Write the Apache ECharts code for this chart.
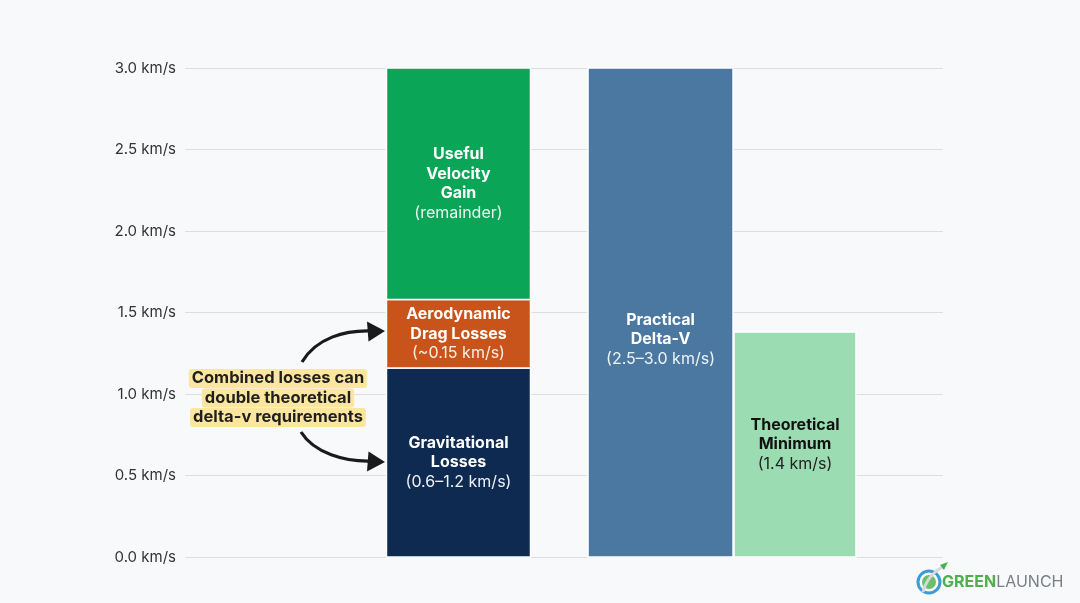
<!DOCTYPE html>
<html>
<head>
<meta charset="utf-8">
<script src="https://cdn.jsdelivr.net/npm/echarts@6/dist/echarts.min.js"></script>
<style>
html,body{margin:0;padding:0;background:#f8f9fa;}
#chart{width:1080px;height:603px;}
</style>
</head>
<body>
<div id="chart"></div>
<script>
// ---- data ----
const categories = ['Loss Breakdown', 'Practical Delta-V', 'Theoretical Minimum'];
const gravitationalLosses = 1.16;   // km/s
const aerodynamicLosses = 0.42;     // km/s
const usefulVelocityGain = 1.42;    // km/s (remainder)
const practicalDeltaV = 3.0;        // km/s
const theoreticalMinimum = 1.38;    // km/s
const yTicks = [0, 0.5, 1.0, 1.5, 2.0, 2.5, 3.0];
const segmentNames = ['Gravitational Losses', 'Aerodynamic Drag Losses', 'Useful Velocity Gain', 'Practical Delta-V', 'Theoretical Minimum'];
const segmentLabels = [
  ['Gravitational', 'Losses', '(0.6–1.2 km/s)'],
  ['Aerodynamic', 'Drag Losses', '(~0.15 km/s)'],
  ['Useful', 'Velocity', 'Gain', '(remainder)'],
  ['Practical', 'Delta-V', '(2.5–3.0 km/s)'],
  ['Theoretical', 'Minimum', '(1.4 km/s)']
];

// ---- layout / style (not data) ----
const barSlots = [[0.2658, 0.4558], [0.5317, 0.7230], [0.7243, 0.8852]];
const segColors = ['#0f2a50', '#c9541b', '#0ba557', '#4a78a1', '#9bdcb2'];
const textColors = ['#ffffff', '#ffffff', '#ffffff', '#ffffff', '#111111'];
const subColors = ['#eef2f7', '#fbeee6', '#e8f7ee', '#eef3f8', '#222222'];
const labelShift = [0, 0, 0, 27, 0];

// build stacked segments from data
const segValues = [gravitationalLosses, aerodynamicLosses, usefulVelocityGain, practicalDeltaV, theoreticalMinimum];
const segCats = [0, 0, 0, 1, 2];
const segData = [];
const stackTop = {};
segValues.forEach((v, i) => {
  const c = segCats[i];
  const base = stackTop[c] || 0;
  segData.push({ name: segmentNames[i], value: [categories[c], base, base + v] });
  stackTop[c] = base + v;
});

function renderItem(params, api) {
  const i = params.dataIndex;
  const cs = params.coordSys;
  const slot = barSlots[segCats[i]];
  const pBase = api.coord([api.value(0), api.value(1)]);
  const pTop = api.coord([api.value(0), api.value(2)]);
  const x0 = cs.x + slot[0] * cs.width;
  const x1 = cs.x + slot[1] * cs.width;
  const lines = segmentLabels[i];
  const txt = lines.map((l, k) => (k === lines.length - 1 ? '{s|' + l + '}' : '{t|' + l + '}')).join('\n');
  return {
    type: 'group',
    children: [
      {
        type: 'rect',
        shape: { x: x0, y: pTop[1], width: x1 - x0, height: pBase[1] - pTop[1] },
        style: { fill: segColors[i], stroke: '#ffffff', lineWidth: 1.5 }
      },
      {
        type: 'text',
        x: (x0 + x1) / 2,
        y: (pTop[1] + pBase[1]) / 2 + labelShift[i],
        style: {
          text: txt,
          align: 'center',
          verticalAlign: 'middle',
          fill: textColors[i],
          rich: {
            t: { fontFamily: 'Inter', fontWeight: 'bold', fontSize: 16, lineHeight: 19.5, fill: textColors[i], align: 'center' },
            s: { fontFamily: 'Inter', fontWeight: 'normal', fontSize: 16, lineHeight: 19.5, fill: subColors[i], align: 'center' }
          }
        }
      }
    ]
  };
}

const chart = echarts.init(document.getElementById('chart'), null, { renderer: 'canvas' });
chart.setOption({
  backgroundColor: '#f8f9fa',
  animation: false,
  grid: { left: 185, right: 137, top: 68, bottom: 46, containLabel: false },
  xAxis: {
    type: 'category',
    data: categories,
    show: false
  },
  yAxis: {
    type: 'value',
    min: yTicks[0],
    max: yTicks[yTicks.length - 1],
    interval: 0.5,
    axisLine: { show: false },
    axisTick: { show: false },
    splitLine: { lineStyle: { color: '#dcdee2', width: 1 } },
    axisLabel: {
      margin: 9,
      fontFamily: 'Inter',
      fontSize: 15,
      color: '#333333',
      formatter: v => v.toFixed(1) + ' km/s'
    }
  },
  series: [{
    type: 'custom',
    renderItem: renderItem,
    encode: { x: 0, y: [1, 2] },
    data: segData,
    z: 3
  }],
  graphic: [
    // upper arrow
    { type: 'bezierCurve', z: 10,
      shape: { x1: 302, y1: 362, cpx1: 316, cpy1: 338, cpx2: 345, cpy2: 330, x2: 372, y2: 331 },
      style: { stroke: '#1a1a1a', lineWidth: 3.2, fill: null } },
    { type: 'polygon', z: 10,
      shape: { points: [[385, 331], [367, 321.5], [368.5, 341.5]] },
      style: { fill: '#1a1a1a' } },
    // lower arrow
    { type: 'bezierCurve', z: 10,
      shape: { x1: 301, y1: 432, cpx1: 314, cpy1: 453, cpx2: 345, cpy2: 462, x2: 372, y2: 461 },
      style: { stroke: '#1a1a1a', lineWidth: 3.2, fill: null } },
    { type: 'polygon', z: 10,
      shape: { points: [[385, 462], [368.5, 451.5], [367, 471.5]] },
      style: { fill: '#1a1a1a' } },
    // callout
    { type: 'text', z: 11, x: 278, y: 398,
      style: {
        text: '{h|Combined losses can}\n{h|double theoretical}\n{h|delta-v requirements}',
        align: 'center', verticalAlign: 'middle',
        rich: {
          h: { fontFamily: 'Inter', fontWeight: 'bold', fontSize: 16.5, lineHeight: 19.5, fill: '#1f1f1f',
               backgroundColor: '#fbe6a0', padding: [1, 3, 1, 3], borderRadius: 3, align: 'center' }
        }
      } },
    // logo icon
    { type: 'circle', z: 10, shape: { cx: 929, cy: 582, r: 11 },
      style: { fill: 'none', stroke: '#3d9bd6', lineWidth: 3 } },
    { type: 'circle', z: 10, shape: { cx: 929, cy: 582, r: 7 },
      style: { fill: '#6cc06a' } },
    { type: 'bezierCurve', z: 11,
      shape: { x1: 923, y1: 592, cpx1: 926, cpy1: 580, cpx2: 933, cpy2: 572, x2: 944, y2: 566 },
      style: { stroke: '#d8d8d8', lineWidth: 3, fill: null } },
    { type: 'polygon', z: 12, shape: { points: [[948, 562], [940, 565], [944, 570]] },
      style: { fill: '#4caf50' } },
    { type: 'text', z: 10, x: 942, y: 582,
      style: {
        text: '{g|GREEN}{l|LAUNCH}', verticalAlign: 'middle', align: 'left',
        rich: {
          g: { fontFamily: 'Inter', fontWeight: 'bold', fontSize: 16, fill: '#4db04a' },
          l: { fontFamily: 'Inter', fontWeight: 'normal', fontSize: 16, fill: '#7a7f85' }
        }
      } }
  ]
});
</script>
</body>
</html>
